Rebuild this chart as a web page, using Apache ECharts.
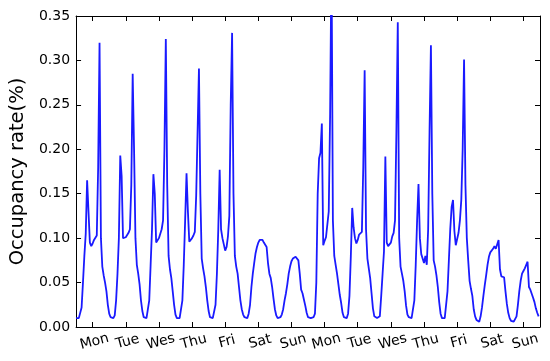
<!DOCTYPE html>
<html><head><meta charset="utf-8">
<script src="https://cdn.jsdelivr.net/npm/echarts@6/dist/echarts.min.js"></script>
<style>html,body{margin:0;padding:0;background:#fff}#c{width:550px;height:361px}</style>
</head><body><div id="c"></div>
<script>
// hourly occupancy rate, one array per day (24 values, hour 0..23)
const mon1 = [0.010,0.010,0.010,0.012,0.022,0.050,0.080,0.105,0.165,0.130,0.095,0.091,0.094,0.098,0.100,0.103,0.180,0.320,0.100,0.068,0.058,0.050,0.040,0.025];
const tue1 = [0.015,0.011,0.010,0.010,0.013,0.030,0.060,0.100,0.193,0.170,0.100,0.100,0.101,0.103,0.106,0.110,0.160,0.285,0.200,0.100,0.070,0.060,0.048,0.030];
const wed1 = [0.018,0.011,0.010,0.010,0.012,0.030,0.070,0.110,0.172,0.150,0.095,0.096,0.100,0.105,0.110,0.120,0.200,0.324,0.160,0.080,0.065,0.055,0.040,0.025];
const thu1 = [0.014,0.010,0.010,0.010,0.012,0.030,0.070,0.120,0.173,0.130,0.096,0.098,0.100,0.103,0.107,0.148,0.150,0.291,0.150,0.077,0.066,0.057,0.045,0.030];
const fri1 = [0.018,0.011,0.010,0.010,0.012,0.025,0.060,0.110,0.177,0.110,0.100,0.098,0.086,0.090,0.102,0.125,0.250,0.331,0.150,0.080,0.068,0.060,0.045,0.030];
const sat1 = [0.020,0.014,0.011,0.010,0.010,0.015,0.025,0.045,0.060,0.072,0.083,0.090,0.095,0.098,0.099,0.098,0.095,0.093,0.090,0.072,0.060,0.055,0.045,0.032];
const sun1 = [0.020,0.013,0.010,0.010,0.011,0.014,0.020,0.030,0.038,0.048,0.060,0.068,0.074,0.077,0.079,0.079,0.078,0.075,0.060,0.042,0.038,0.031,0.024,0.016];
const mon2 = [0.011,0.010,0.010,0.010,0.011,0.015,0.050,0.150,0.190,0.196,0.229,0.092,0.097,0.101,0.101,0.130,0.240,0.420,0.120,0.080,0.070,0.060,0.048,0.036];
const tue2 = [0.027,0.016,0.011,0.010,0.010,0.015,0.035,0.080,0.134,0.112,0.100,0.094,0.098,0.104,0.106,0.107,0.180,0.289,0.110,0.077,0.066,0.055,0.038,0.021];
const wed2 = [0.012,0.010,0.010,0.010,0.012,0.035,0.060,0.085,0.192,0.095,0.091,0.093,0.095,0.102,0.106,0.120,0.220,0.343,0.100,0.068,0.060,0.052,0.040,0.024];
const thu2 = [0.014,0.011,0.010,0.010,0.012,0.030,0.070,0.120,0.161,0.100,0.082,0.084,0.072,0.080,0.070,0.110,0.220,0.317,0.150,0.075,0.068,0.058,0.045,0.028];
const fri2 = [0.015,0.010,0.010,0.010,0.012,0.040,0.075,0.110,0.135,0.143,0.108,0.092,0.090,0.106,0.120,0.143,0.200,0.301,0.160,0.100,0.075,0.052,0.043,0.035];
const sat2 = [0.020,0.012,0.008,0.006,0.006,0.012,0.022,0.035,0.047,0.058,0.070,0.079,0.084,0.086,0.088,0.091,0.088,0.089,0.098,0.065,0.057,0.056,0.056,0.040];
const sun2 = [0.026,0.016,0.010,0.007,0.006,0.006,0.008,0.012,0.025,0.040,0.052,0.060,0.063,0.066,0.068,0.0735,0.045,0.042,0.040,0.033,0.028,0.021,0.016,0.012];

const days = [mon1, tue1, wed1, thu1, fri1, sat1, sun1, mon2, tue2, wed2, thu2, fri2, sat2, sun2];
const dayLabels = ['Mon','Tue','Wes','Thu','Fri','Sat','Sun','Mon','Tue','Wes','Thu','Fri','Sat','Sun'];
const yLabel = 'Occupancy rate(%)';

const data = [];
days.forEach((arr, d) => arr.forEach((v, h) => data.push([d * 24 + h, v])));
const tickVals = dayLabels.map((_, i) => i * 24 + 12);

const font = 'DejaVu Sans';
const chart = echarts.init(document.getElementById('c'), null, {renderer: 'canvas'});
chart.setOption({
  animation: false,
  grid: {left: 72, right: 10, top: 16, bottom: 34},
  xAxis: [{
    type: 'value', min: 0, max: 336,
    axisLine: {show: true, onZero: false, lineStyle: {color: '#000', width: 1}},
    axisTick: {show: true, inside: true, length: 5, customValues: tickVals, lineStyle: {color: '#000'}},
    axisLabel: {show: true, customValues: tickVals, rotate: 15, margin: 8, align: 'center', verticalAlign: 'top',
      fontFamily: font, fontSize: 14, color: '#000',
      formatter: v => dayLabels[Math.round((v - 12) / 24)] || ''},
    splitLine: {show: false}
  }, {
    type: 'value', min: 0, max: 336, position: 'top',
    axisLine: {show: true, onZero: false, lineStyle: {color: '#000', width: 1}},
    axisTick: {show: true, inside: true, length: 5, customValues: tickVals, lineStyle: {color: '#000'}},
    axisLabel: {show: false}, splitLine: {show: false}
  }],
  yAxis: [{
    type: 'value', min: 0, max: 0.35, interval: 0.05,
    name: yLabel, nameLocation: 'middle', nameGap: 45,
    nameTextStyle: {fontFamily: font, fontSize: 19.5, color: '#000'},
    axisLine: {show: true, onZero: false, lineStyle: {color: '#000', width: 1}},
    axisTick: {show: true, inside: true, length: 5, lineStyle: {color: '#000'}},
    axisLabel: {fontFamily: font, fontSize: 14, color: '#000', margin: 6, formatter: v => v.toFixed(2)},
    splitLine: {show: false}
  }, {
    type: 'value', min: 0, max: 0.35, interval: 0.05, position: 'right',
    axisLine: {show: true, onZero: false, lineStyle: {color: '#000', width: 1}},
    axisTick: {show: true, inside: true, length: 5, lineStyle: {color: '#000'}},
    axisLabel: {show: false}, splitLine: {show: false}
  }],
  series: [{
    type: 'line', data: data, xAxisIndex: 0, yAxisIndex: 0,
    showSymbol: false, symbol: 'none', clip: true,
    lineStyle: {color: '#1a1aff', width: 1.8}
  }]
});
</script></body></html>
